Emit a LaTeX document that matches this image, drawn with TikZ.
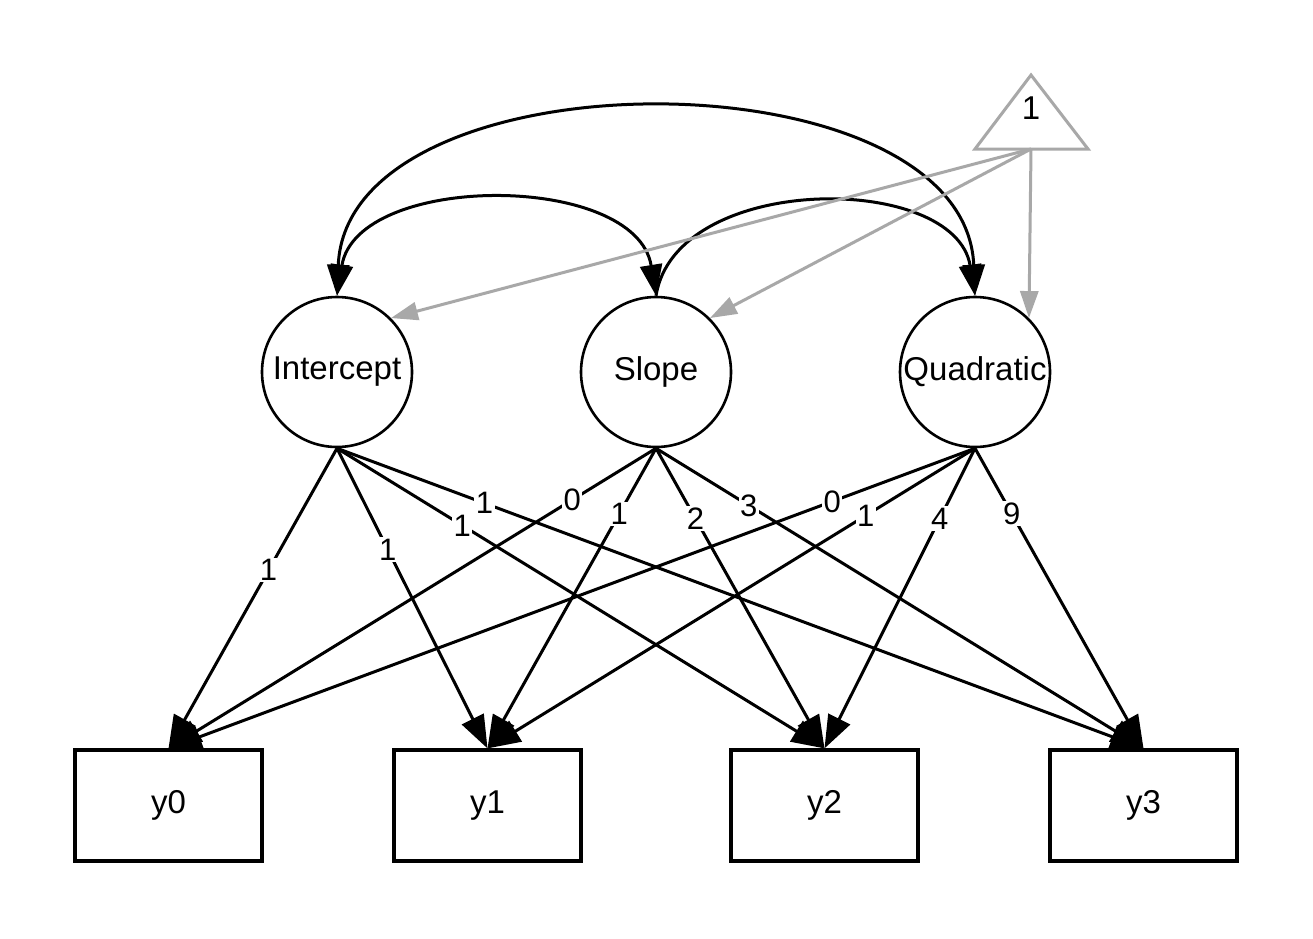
\documentclass[tikz,border=0pt]{standalone}
\usepackage{fontspec}
\setmainfont{Liberation Sans}
\usetikzlibrary{arrows.meta}
\definecolor{gr}{RGB}{168,168,168}
\begin{document}
\begin{tikzpicture}[x=1pt,y=-1pt,
  lat/.style={circle,draw,line width=2.6pt,minimum size=150pt,inner sep=0pt,font=\fontsize{33}{38}\selectfont},
  obs/.style={rectangle,draw,line width=3.2pt,minimum width=187pt,minimum height=111pt,inner sep=0pt,font=\fontsize{33}{38}\selectfont},
  load/.style={line width=3pt,-{Triangle[length=33pt,width=24pt]}},
  cov/.style={line width=3pt},
  tipb/.style={-{Triangle[length=31pt,width=22pt]}},
  tipbb/.style={{Triangle[length=31pt,width=22pt]}-{Triangle[length=31pt,width=22pt]}},
  mean/.style={gr,line width=3pt,-{Triangle[length=27pt,width=18pt]}},
  lab/.style={fill=white,inner sep=1.5pt,font=\fontsize{31}{36}\selectfont}]
\useasboundingbox (0,0) rectangle (1313,938);
\fill[white] (0,0) rectangle (1313,938);
% latent nodes
\node[lat] (I) at (337,372) {Intercept};
\node[lat] (S) at (656,372) {Slope};
\node[lat] (Q) at (975,372) {Quadratic};
% observed
\node[obs] (y0) at (168.5,805.5) {y0};
\node[obs] (y1) at (487.5,805.5) {y1};
\node[obs] (y2) at (824.5,805.5) {y2};
\node[obs] (y3) at (1143.5,805.5) {y3};
% triangle
\draw[gr,line width=3pt,line join=miter] (1031,75) -- (1088,149) -- (975,149) -- cycle;
\node[font=\fontsize{33}{38}\selectfont] (one) at (1031,108) {1};
\coordinate (tri) at (1031,149);
% loadings
\draw[load] (I.south) -- (y0.north) node[lab,pos=0.406] {1};
\draw[load] (I.south) -- (y1.north) node[lab,pos=0.337] {1};
\draw[load] (I.south) -- (y2.north) node[lab,pos=0.257] {1};
\draw[load] (I.south) -- (y3.north) node[lab,pos=0.183] {1};
\draw[load] (S.south) -- (y0.north) node[lab,pos=0.172] {0};
\draw[load] (S.south) -- (y1.north) node[lab,pos=0.218] {1};
\draw[load] (S.south) -- (y2.north) node[lab,pos=0.234] {2};
\draw[load] (S.south) -- (y3.north) node[lab,pos=0.19] {3};
\draw[load] (Q.south) -- (y0.north) node[lab,pos=0.177] {0};
\draw[load] (Q.south) -- (y1.north) node[lab,pos=0.224] {1};
\draw[load] (Q.south) -- (y2.north) node[lab,pos=0.234] {4};
\draw[load] (Q.south) -- (y3.north) node[lab,pos=0.218] {9};
% covariances
\draw[cov,tipbb] (I.north) .. controls (347,50) and (965,50) .. (Q.north);
\draw[cov,tipbb] (I.north) .. controls (357,172) and (636,172) .. (S.north);
\draw[cov,tipb] (S.north) .. controls (676,172) and (955,172) .. (Q.north);
% means
\draw[mean] (tri) -- (I.north east);
\draw[mean] (tri) -- (S.north east);
\draw[mean] (tri) -- (Q.north east);
\end{tikzpicture}
\end{document}
